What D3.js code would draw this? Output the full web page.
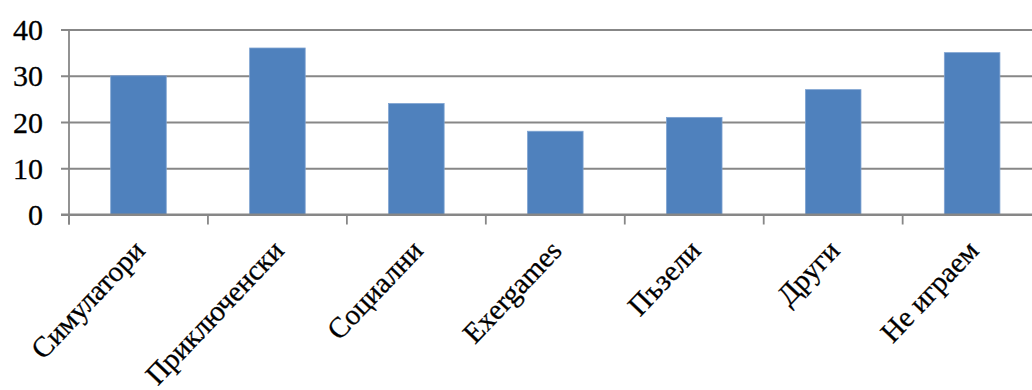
<!DOCTYPE html>
<html>
<head>
<meta charset="utf-8">
<script src="https://cdn.jsdelivr.net/npm/d3@7"></script>
<style>
  html, body { margin: 0; padding: 0; background: #fff; }
  svg { display: block; }
  text { font-family: "Liberation Serif", "Times New Roman", serif; fill: #000; stroke: #000; stroke-width: 0.3; }
</style>
</head>
<body>
<svg id="chart" width="1032" height="390"></svg>
<script>
// Preferred game genres (number of respondents)
const categories = ["Симулатори", "Приключенски", "Социални", "Exergames", "Пъзели", "Други", "Не играем"];
const values = [30, 36, 24, 18, 21, 27, 35];
const yTicks = [0, 10, 20, 30, 40];

const svg = d3.select("#chart");
const plot = { left: 69, right: 1041.6, top: 29.5, bottom: 214.5 };

const x = d3.scaleBand()
  .domain(categories)
  .range([plot.left, plot.right])
  .paddingInner(0.6)
  .paddingOuter(0.3);

const y = d3.scaleLinear()
  .domain([0, 40])
  .range([plot.bottom, plot.top]);

const gridColor = "#878787";
const step = x.step();

// Horizontal gridlines with left tick marks
const yAxis = d3.axisLeft(y).tickValues(yTicks).tickSize(-(1032 - plot.left)).tickPadding(26).tickFormat(d3.format("d"));
const gy = svg.append("g").attr("transform", `translate(${plot.left},0)`).call(yAxis);
gy.select(".domain").remove();
gy.selectAll(".tick line").attr("stroke", gridColor).attr("stroke-width", 1.8).attr("x1", -8);
gy.selectAll(".tick text").attr("font-size", 30).attr("dy", "0.34em");

// Vertical axis line
svg.append("line")
  .attr("x1", plot.left).attr("x2", plot.left)
  .attr("y1", y(40)).attr("y2", plot.bottom + 10)
  .attr("stroke", gridColor).attr("stroke-width", 1.8);

// Category tick marks at band boundaries
const boundaries = categories.map(c => x(c) - (step - x.bandwidth()) / 2);
svg.append("g").selectAll("line").data(boundaries).join("line")
  .attr("x1", d => d).attr("x2", d => d)
  .attr("y1", plot.bottom).attr("y2", plot.bottom + 10)
  .attr("stroke", gridColor).attr("stroke-width", 1.8);

// Bars
svg.append("g").selectAll("rect").data(values).join("rect")
  .attr("x", (d, i) => x(categories[i]))
  .attr("width", x.bandwidth())
  .attr("y", d => y(d))
  .attr("height", d => y(0) - y(d))
  .attr("fill", "#4f81bd")
  .attr("stroke", "#7fa3d1")
  .attr("stroke-width", 0.8);

// Baseline drawn over the bars' bottom edge
svg.append("line")
  .attr("x1", plot.left - 8).attr("x2", 1032)
  .attr("y1", plot.bottom).attr("y2", plot.bottom)
  .attr("stroke", gridColor).attr("stroke-width", 1.8);

// Rotated category labels
svg.append("g").selectAll("text").data(categories).join("text")
  .attr("transform", d => `translate(${x(d) + x.bandwidth() / 2 + 8},252) rotate(-46.5)`)
  .attr("text-anchor", "end")
  .attr("font-size", 29)
  .text(d => d);
</script>
</body>
</html>
